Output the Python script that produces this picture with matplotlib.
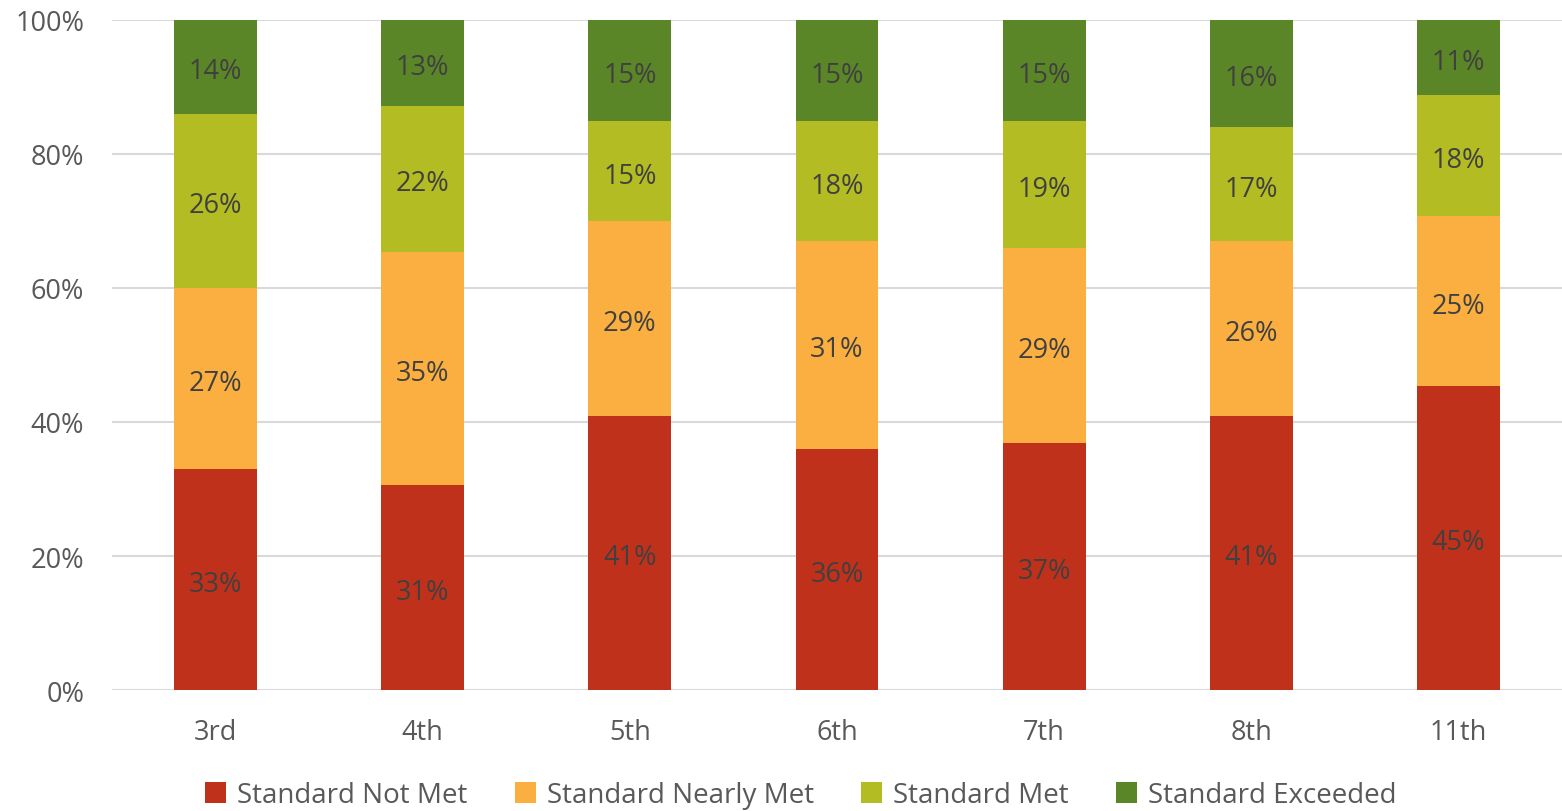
import numpy as np
import matplotlib.pyplot as plt
from matplotlib.ticker import PercentFormatter

grades = ['3rd', '4th', '5th', '6th', '7th', '8th', '11th']
not_met = [33.0, 30.6, 40.9, 36.0, 36.9, 40.9, 45.4]
nearly_met = [27.0, 34.8, 29.1, 31.0, 29.1, 26.1, 25.3]
met = [26.0, 21.8, 14.9, 17.9, 18.9, 17.0, 18.1]
exceeded = [14.0, 12.8, 15.1, 15.1, 15.1, 16.0, 11.2]

series = [('Standard Not Met', not_met, '#C0311B'),
          ('Standard Nearly Met', nearly_met, '#FBAF41'),
          ('Standard Met', met, '#B3BC22'),
          ('Standard Exceeded', exceeded, '#5B8627')]

plt.rcParams['font.family'] = ['Open Sans', 'DejaVu Sans']

fig = plt.figure(figsize=(15.62, 8.12), dpi=100)
ax = fig.add_axes([112/1562, 1-691/812, 1-112/1562, 670/812])

x = np.arange(len(grades))
bottom = np.zeros(len(grades))
for name, vals, col in series:
    vals = np.array(vals)
    ax.bar(x, vals, 0.4, bottom=bottom, color=col, label=name, zorder=3)
    for xi, b, v in zip(x, bottom, vals):
        ax.text(xi, b + v/2 - 0.15, f'{round(v):.0f}%', ha='center', va='center_baseline',
                fontsize=19.5, color='#404040', zorder=4)
    bottom += vals

ax.set_xlim(-0.5, len(grades) - 0.5)
ax.set_ylim(0, 100)
ax.set_yticks(range(0, 101, 20))
ax.yaxis.set_major_formatter(PercentFormatter(decimals=0))
ax.set_xticks(x)
ax.set_xticklabels(grades)
ax.tick_params(axis='both', length=0, labelsize=19.5, labelcolor='#595959')
ax.tick_params(axis='x', pad=20)
ax.tick_params(axis='y', pad=20)
ax.grid(axis='y', color='#D9D9D9', linewidth=1.5, zorder=0)
for s in ax.spines.values():
    s.set_visible(False)

leg = ax.legend(loc='center', bbox_to_anchor=(0.475, -0.157), ncol=4, frameon=False,
                fontsize=20, handlelength=0.75, handleheight=0.75, columnspacing=1.7,
                handletextpad=0.4)
for t in leg.get_texts():
    t.set_color('#595959')

fig.savefig('out.png', dpi=100)
